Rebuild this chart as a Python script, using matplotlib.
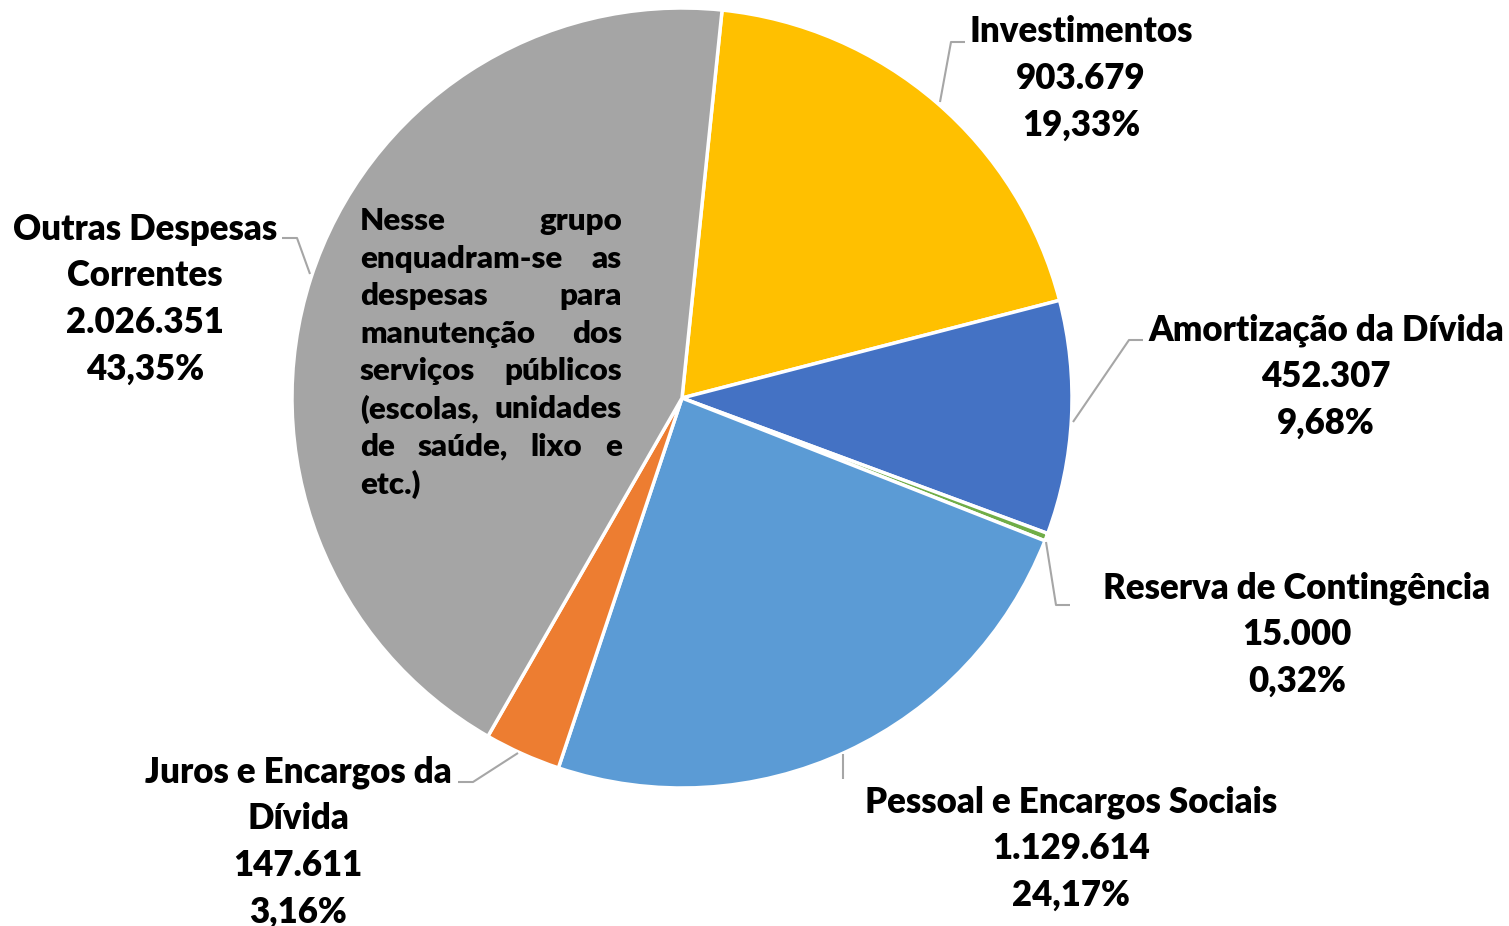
import matplotlib.pyplot as plt

W, H = 1509, 926

categorias = ['Investimentos', 'Amortização da Dívida', 'Reserva de Contingência',
              'Pessoal e Encargos Sociais', 'Juros e Encargos da Dívida',
              'Outras Despesas Correntes']
valores = [903679, 452307, 15000, 1129614, 147611, 2026351]
rotulos_valor = ['903.679', '452.307', '15.000', '1.129.614', '147.611', '2.026.351']
rotulos_pct = ['19,33%', '9,68%', '0,32%', '24,17%', '3,16%', '43,35%']
cores = ['#FFC000', '#4472C4', '#70AD47', '#5B9BD5', '#ED7D31', '#A5A5A5']

nota_linhas = ['Nesse grupo', 'enquadram-se as', 'despesas para', 'manutenção dos',
               'serviços públicos', '(escolas, unidades', 'de saúde, lixo e', 'etc.)']

FONTE = 'Lato'
PESO = 'heavy'


def P(x, y):
    # pixel coords (origin top-left) -> data coords
    return x, H - y


fig = plt.figure(figsize=(W / 100, H / 100), dpi=100)
ax = fig.add_axes([0, 0, 1, 1])

ax.pie(valores, colors=cores, startangle=84.1, counterclock=False,
       center=P(682, 398), radius=390, frame=True,
       wedgeprops=dict(edgecolor='white', linewidth=2.5))
ax.set_xlim(0, W)
ax.set_ylim(0, H)
ax.set_aspect('equal')
ax.axis('off')

# labels: (center x, first line y, lines)
posicoes = [
    (1081, 32, ['Investimentos']),
    (1326, 330, ['Amortização da Dívida']),
    (1297, 588, ['Reserva de Contingência']),
    (1071, 802, ['Pessoal e Encargos Sociais']),
    (298, 772, ['Juros e Encargos da', 'Dívida']),
    (145, 229, ['Outras Despesas', 'Correntes']),
]
passo = 46.8
for i, (cx, y0, nomes) in enumerate(posicoes):
    linhas = nomes + [rotulos_valor[i], rotulos_pct[i]]
    for k, t in enumerate(linhas):
        ax.text(*P(cx, y0 + k * passo), t, ha='center', va='center',
                fontsize=25, fontweight=PESO, family=FONTE, color='black')

guias = [
    [(940, 102), (951, 42), (965, 42)],
    [(1073, 422), (1129, 340), (1143, 340)],
    [(1046, 542), (1056, 605), (1070, 605)],
    [(843, 754), (843, 779)],
    [(518, 753), (473, 782), (458, 782)],
    [(310, 274), (297, 238), (282, 238)],
]
for g in guias:
    xs, ys = zip(*[P(x, y) for x, y in g])
    ax.plot(xs, ys, color='#A6A6A6', lw=1.5, solid_capstyle='butt')

# justified note inside the grey slice
fig.canvas.draw()
r = fig.canvas.get_renderer()
x_esq, x_dir = 360, 622
y_top, passo_nota = 221, 37.6
fs_nota = 22.5
for k, linha in enumerate(nota_linhas):
    y = y_top + k * passo_nota
    palavras = linha.split()
    if k == len(nota_linhas) - 1 or len(palavras) == 1:
        ax.text(*P(x_esq, y), linha, ha='left', va='center', fontsize=fs_nota,
                fontweight=PESO, family=FONTE)
        continue
    objs = [ax.text(0, 0, p, ha='left', va='center', fontsize=fs_nota,
                    fontweight=PESO, family=FONTE) for p in palavras]
    larguras = [o.get_window_extent(r).width for o in objs]
    gap = (x_dir - x_esq - sum(larguras)) / (len(palavras) - 1)
    x = x_esq
    for o, w in zip(objs, larguras):
        o.set_position(P(x, y))
        x += w + gap

fig.savefig('out.png', dpi=100, facecolor='white')
